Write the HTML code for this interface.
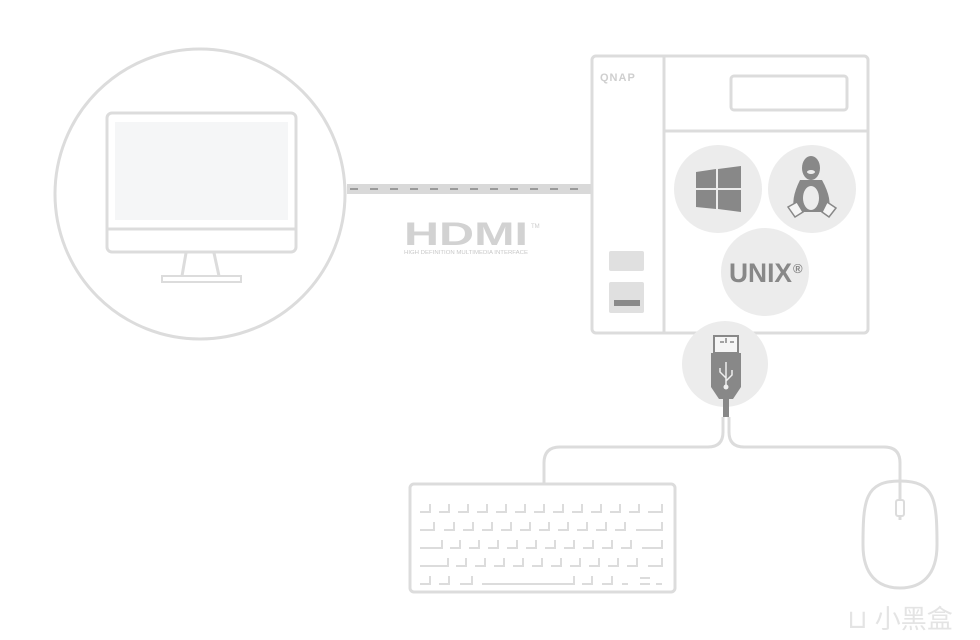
<!DOCTYPE html>
<html><head><meta charset="utf-8"><style>html,body{margin:0;padding:0;background:#fff;width:980px;height:640px;overflow:hidden}</style></head>
<body>
<svg width="980" height="640" viewBox="0 0 980 640" xmlns="http://www.w3.org/2000/svg" font-family="Liberation Sans, sans-serif">
<circle cx="200" cy="194" r="145" fill="none" stroke="#dcdcdc" stroke-width="3"/>
<rect x="107" y="113" width="189" height="139" rx="5" fill="none" stroke="#dcdcdc" stroke-width="3"/>
<rect x="115" y="122" width="173" height="98" fill="#f5f6f7"/>
<line x1="107" y1="229" x2="296" y2="229" stroke="#dcdcdc" stroke-width="3"/>
<line x1="186" y1="253" x2="182" y2="276" stroke="#dcdcdc" stroke-width="3"/>
<line x1="214" y1="253" x2="219" y2="276" stroke="#dcdcdc" stroke-width="3"/>
<rect x="162" y="276" width="79" height="6" fill="none" stroke="#dcdcdc" stroke-width="2"/>
<rect x="347" y="184" width="244" height="10" fill="#d9d9d9"/>
<line x1="350" y1="189" x2="590" y2="189" stroke="#9a9a9a" stroke-width="2" stroke-dasharray="8,12"/>
<text x="404" y="245" font-size="32" font-weight="bold" fill="#d2d2d2" textLength="124" lengthAdjust="spacingAndGlyphs">HDMI</text>
<text x="531" y="228" font-size="6" fill="#ccc">TM</text>
<text x="466" y="254" text-anchor="middle" font-size="5.5" fill="#c8c8c8" textLength="124" lengthAdjust="spacingAndGlyphs">HIGH DEFINITION MULTIMEDIA INTERFACE</text>
<rect x="592" y="56" width="276" height="277" rx="4" fill="#fff" stroke="#dcdcdc" stroke-width="3"/>
<line x1="664" y1="56" x2="664" y2="333" stroke="#dcdcdc" stroke-width="3"/>
<line x1="664" y1="131" x2="868" y2="131" stroke="#dcdcdc" stroke-width="3"/>
<rect x="731" y="76" width="116" height="34" rx="3" fill="none" stroke="#dcdcdc" stroke-width="3"/>
<text x="600" y="81" font-size="11" font-weight="bold" fill="#cfcfcf" letter-spacing="1">QNAP</text>
<rect x="609" y="251" width="35" height="20" rx="2" fill="#e0e0e0"/>
<rect x="609" y="282" width="35" height="31" rx="2" fill="#e0e0e0"/>
<rect x="614" y="300" width="26" height="6" fill="#8a8a8a"/>
<circle cx="718" cy="189" r="44" fill="#ececec"/>
<circle cx="812" cy="189" r="44" fill="#ececec"/>
<circle cx="765" cy="272" r="44" fill="#ececec"/>
<g fill="#888">
<polygon points="696,172 716,169 716,188 696,188"/>
<polygon points="718,169 741,166 741,188 718,188"/>
<polygon points="696,190 716,190 716,209 696,207"/>
<polygon points="718,190 741,190 741,212 718,209"/>
</g>
<g fill="#888">
<ellipse cx="811" cy="168" rx="9" ry="12"/>
<path d="M800,180 Q790,200 795,212 L828,212 Q833,200 822,180 Z"/>
<ellipse cx="811" cy="198" rx="8" ry="12" fill="#ececec"/>
<path d="M788,207 L797,202 L803,212 L795,217 Z" fill="#f5f5f5" stroke="#888" stroke-width="1.5"/>
<path d="M822,212 L827,202 L836,208 L829,217 Z" fill="#f5f5f5" stroke="#888" stroke-width="1.5"/>
<ellipse cx="811" cy="172" rx="4" ry="2" fill="#ececec"/>
</g>
<text x="729" y="282" font-size="27" font-weight="bold" fill="#888" textLength="63" lengthAdjust="spacingAndGlyphs">UNIX</text>
<text x="793" y="273" font-size="13" font-weight="bold" fill="#888">®</text>
<circle cx="725" cy="364" r="43" fill="#ececec"/>
<rect x="714" y="336" width="24" height="17" fill="#f5f5f5" stroke="#888" stroke-width="2"/>
<path d="M726,338 v5 M720,342 h4 M730,342 h4" stroke="#888" stroke-width="1.5" fill="none"/>
<path d="M711,353 L741,353 L741,387 L733,399 L719,399 L711,387 Z" fill="#888"/>
<g stroke="#eee" stroke-width="1.5" fill="none"><path d="M726,362 V386 M726,378 L720,372 V368 M726,381 L732,375 V370"/></g>
<circle cx="726" cy="387" r="2.5" fill="#eee"/>
<rect x="723" y="399" width="6" height="18" fill="#888"/>
<path d="M723,417 V432 Q723,447 708,447 H560 Q544,447 544,463 V483" fill="none" stroke="#dcdcdc" stroke-width="3"/>
<path d="M729,417 V432 Q729,447 744,447 H884 Q900,447 900,463 V520" fill="none" stroke="#dcdcdc" stroke-width="3"/>
<rect x="896" y="500" width="8" height="16" rx="2" fill="#fff" stroke="#dcdcdc" stroke-width="2"/>
<path d="M900,481 C935,481 937,500 937,545 C937,575 922,588 900,588 C878,588 863,575 863,545 C863,500 865,481 900,481 Z" fill="none" stroke="#dcdcdc" stroke-width="3"/>
<rect x="410" y="484" width="265" height="108" rx="4" fill="none" stroke="#dcdcdc" stroke-width="3"/>
<g fill="none" stroke="#dcdcdc" stroke-width="2">
<path d="M420,512 h10 v-8 M439,512 h10 v-8 M458,512 h10 v-8 M477,512 h10 v-8 M496,512 h10 v-8 M515,512 h10 v-8 M534,512 h10 v-8 M553,512 h10 v-8 M572,512 h10 v-8 M591,512 h10 v-8 M610,512 h10 v-8 M629,512 h10 v-8 M648,512 h14 v-8"/>
<path d="M420,530 h14 v-8 M444,530 h10 v-8 M463,530 h10 v-8 M482,530 h10 v-8 M501,530 h10 v-8 M520,530 h10 v-8 M539,530 h10 v-8 M558,530 h10 v-8 M577,530 h10 v-8 M596,530 h10 v-8 M615,530 h10 v-8 M636,530 h26 v-8"/>
<path d="M420,548 h22 v-8 M450,548 h10 v-8 M469,548 h10 v-8 M488,548 h10 v-8 M507,548 h10 v-8 M526,548 h10 v-8 M545,548 h10 v-8 M564,548 h10 v-8 M583,548 h10 v-8 M602,548 h10 v-8 M621,548 h10 v-8 M642,548 h20 v-8"/>
<path d="M420,566 h28 v-8 M456,566 h10 v-8 M475,566 h10 v-8 M494,566 h10 v-8 M513,566 h10 v-8 M532,566 h10 v-8 M551,566 h10 v-8 M570,566 h10 v-8 M589,566 h10 v-8 M608,566 h10 v-8 M627,566 h10 v-8 M648,566 h14 v-8"/>
<path d="M420,584 h10 v-8 M439,584 h10 v-8 M460,584 h12 v-8 M482,584 h92 v-8 M582,584 h10 v-8 M602,584 h10 v-8 M622,584 h6 M640,584 h10 M640,578 h10 M656,584 h6"/>
</g>
<text x="900" y="628" text-anchor="middle" font-size="26" fill="#e4e4e4" font-family="Liberation Sans, Noto Sans CJK SC, sans-serif">⊔ 小黑盒</text>
</svg>
</body></html>
